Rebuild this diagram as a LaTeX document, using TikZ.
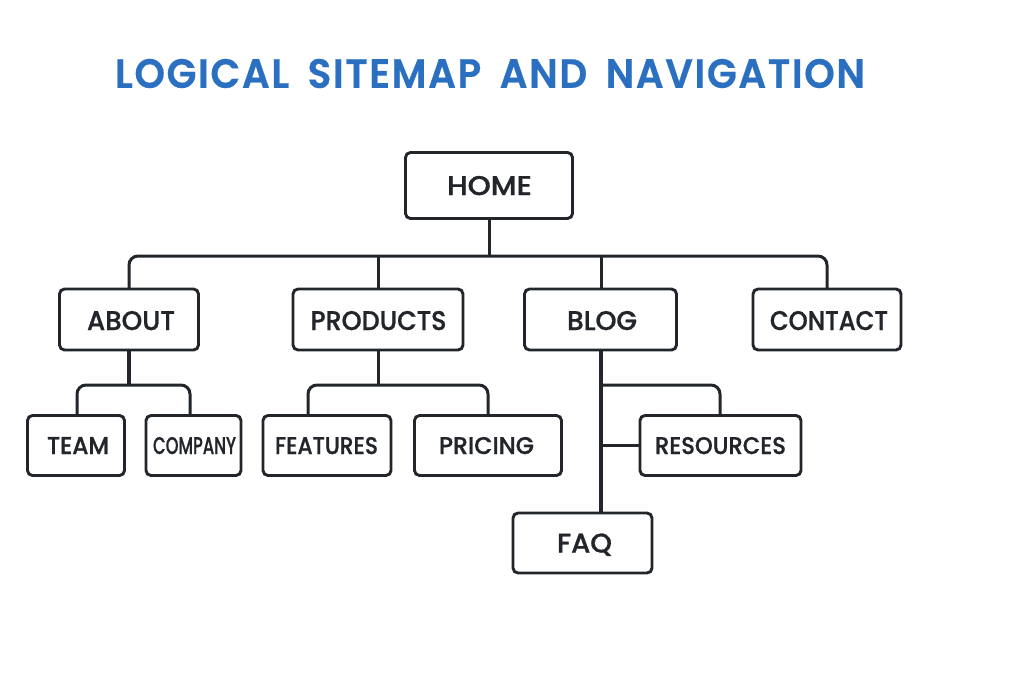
\documentclass[tikz,border=0pt]{standalone}
\usepackage{fontspec}
\usepackage{graphicx}
\setmainfont{Poppins}
\newfontfamily\lblfont[FakeBold=0.9]{Poppins Medium}
\newfontfamily\ttlfont[LetterSpace=4,WordSpace=1.7,FakeBold=0.5]{Poppins SemiBold}
\definecolor{ink}{HTML}{22262B}
\definecolor{ttl}{HTML}{2B70C0}
\tikzset{
 pagebox/.style={draw=ink,line width=2.9pt,rounded corners=5pt,fill=white,inner sep=0pt,text=ink,font=\lblfont\fontsize{23}{24}\selectfont},
 link/.style={draw=ink,line width=3pt,rounded corners=9pt},
 thick link/.style={draw=ink,line width=3.8pt}
}
\newcommand{\bx}[5]{\node[pagebox,minimum width=#3 pt,minimum height=#4 pt] (#1) at (#2) {#5};}
% width, cap height, horizontal push (twice the shift), vertical raise, text
\newcommand{\lab}[5]{\hspace*{#3pt}\raisebox{#4pt}[#2pt][0pt]{\resizebox{#1pt}{#2pt}{#5}}}
\begin{document}
\begin{tikzpicture}[x=1pt,y=-1pt]
\useasboundingbox (0,0) rectangle (1024,683);
\coordinate (busL) at (129,256);
\coordinate (busR) at (827,256);
\coordinate (busH) at (489,256);
\coordinate (busP) at (378,256);
\coordinate (busB) at (601,256);
\coordinate (aboutJ) at (129,385);
\coordinate (prodJ) at (378,385);
\coordinate (blogJ) at (601,385);
\coordinate (blogE) at (601,445);
\coordinate (blogF) at (601,514);
\coordinate (blogS) at (601,350);
\coordinate (blogN) at (601,289);
\coordinate (teamN) at (77,416);
\coordinate (compN) at (190,416);
\coordinate (featN) at (308,416);
\coordinate (priN) at (488,416);
\coordinate (resN) at (720,416);
\node[text=ttl,font=\ttlfont\fontsize{37}{38}\selectfont] (title) at (490,73.5) {\resizebox{750pt}{29pt}{LOGICAL SITEMAP AND NAVIGATION}};
\draw[link] (489,218) -- (busH);
\draw[link] (aboutJ |- 0,289) -- (busL) -- (busR) -- (busR |- 0,289);
\draw[link] (busP) -- (prodJ |- 0,289);
\draw[link] (busB) -- (blogN);
\draw[thick link] (129,350) -- (aboutJ);
\draw[link] (teamN) -- (teamN |- aboutJ) -- (compN |- aboutJ) -- (compN);
\draw[link] (378,350) -- (prodJ);
\draw[link] (featN) -- (featN |- prodJ) -- (priN |- prodJ) -- (priN);
\draw[link] (blogJ) -- (resN |- blogJ) -- (resN);
\draw[thick link] (blogS) -- (blogF);
\draw[link] (blogE) -- (640,445);
\bx{home}{489,185.5}{167}{66}{\lab{85}{19}{1}{0}{HOME}}
\bx{about}{129,319.5}{139}{61}{\lab{88}{19}{4}{-1}{ABOUT}}
\bx{products}{378,319.5}{170}{61}{\lab{136}{19}{1}{-1}{PRODUCTS}}
\bx{blog}{600.5,319.5}{152}{61}{\lab{70}{19}{3}{-1}{BLOG}}
\bx{contact}{827,319.5}{148}{61}{\lab{118}{19}{4}{-1}{CONTACT}}
\bx{team}{76,445.5}{97}{60}{\lab{62}{17}{4}{0}{TEAM}}
\bx{company}{193.5,445.5}{95}{60}{\lab{83}{17}{2}{0}{COMPANY}}
\bx{features}{327,445.5}{128}{60}{\lab{103}{17}{-1}{0}{FEATURES}}
\bx{pricing}{488,445.5}{147}{60}{\lab{95}{17}{-3}{0}{PRICING}}
\bx{resources}{720.5,445.5}{161}{60}{\lab{131}{17}{0}{0}{RESOURCES}}
\bx{faq}{582.5,543}{139}{60}{\lab{55}{19}{4}{0}{FAQ}}
\end{tikzpicture}
\end{document}
